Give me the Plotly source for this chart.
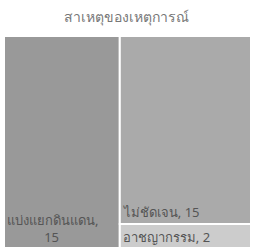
import plotly.graph_objects as go

title = "สาเหตุของเหตุการณ์"
labels = ["แบ่งแยกดินแดน", "ไม่ชัดเจน", "อาชญากรรม"]
values = [15, 15, 2]
colors = ["#999999", "#aaaaaa", "#cccccc"]

texts = []
for i, (l, v) in enumerate(zip(labels, values)):
    if i == 0:
        texts.append(f"{l},<br>" + "\u00a0" * 11 + f"{v}")
    else:
        texts.append(f"{l}, {v}")

fig = go.Figure(go.Treemap(
    labels=labels,
    parents=[""] * len(labels),
    values=values,
    text=texts,
    texttemplate="%{text}",
    textposition="bottom left",
    tiling=dict(packing="squarify", pad=0),
    marker=dict(colors=colors, line=dict(color="white", width=2),
                pad=dict(t=0, l=0, r=0, b=0)),
    textfont=dict(family="Noto Sans, sans-serif", size=13, color="#555555"),
    hoverinfo="label+value",
    sort=True,
))

fig.update_layout(
    width=253, height=249,
    margin=dict(l=4, r=2, t=36, b=0),
    paper_bgcolor="white",
    title=dict(text=title, x=0.5, xanchor="center", y=0.93, yanchor="middle",
               font=dict(family="Noto Sans, sans-serif", size=14, color="#777777")),
)

fig.write_html("out.html", config={"displayModeBar": False},
               post_script="document.body.style.overflow='hidden';document.documentElement.style.overflow='hidden';document.body.style.margin='0';")
